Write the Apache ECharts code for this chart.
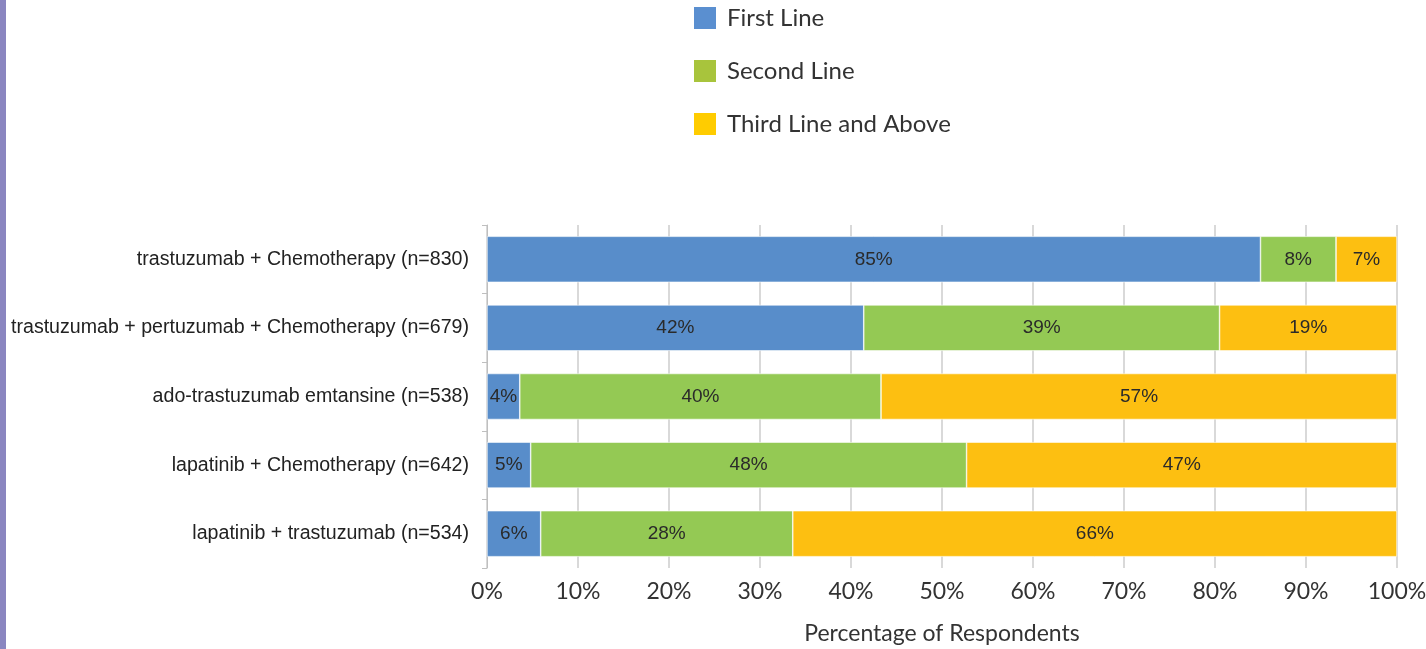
<!DOCTYPE html>
<html><head><meta charset="utf-8">
<script src="https://cdn.jsdelivr.net/npm/echarts@6/dist/echarts.min.js"></script>
<style>html,body{margin:0;padding:0;background:#fff}#c{width:1426px;height:649px}</style>
</head><body><div id="c"></div>
<script>
var categories = [
  "trastuzumab + Chemotherapy (n=830)",
  "trastuzumab + pertuzumab + Chemotherapy (n=679)",
  "ado-trastuzumab emtansine (n=538)",
  "lapatinib + Chemotherapy (n=642)",
  "lapatinib + trastuzumab (n=534)"
];
var firstLine  = [85.0, 41.4, 3.6, 4.8, 5.9];
var secondLine = [8.3, 39.1, 39.7, 47.9, 27.7];
var thirdLine  = [6.7, 19.5, 56.7, 47.3, 66.4];
var firstLabels  = ["85%", "42%", "4%", "5%", "6%"];
var secondLabels = ["8%", "39%", "40%", "48%", "28%"];
var thirdLabels  = ["7%", "19%", "57%", "47%", "66%"];
var xTicks = ["0%","10%","20%","30%","40%","50%","60%","70%","80%","90%","100%"];

var chart = echarts.init(document.getElementById('c'));
function mk(name, vals, labs, color) {
  return {
    name: name, type: 'bar', stack: 'all', barWidth: 46,
    data: vals,
    itemStyle: {color: color, borderColor: '#ffffff', borderWidth: 0.6},
    label: {show: true, position: 'inside', color: '#2a2a2a', fontFamily: 'Liberation Sans', fontSize: 19,
      formatter: function(p){ return labs[p.dataIndex]; }},
    emphasis: {disabled: true}
  };
}
chart.setOption({
  animation: false,
  graphic: [{type: 'rect', left: 0, top: 0, shape: {x: 0, y: 0, width: 6, height: 649}, style: {fill: '#8a86c0'}}],
  legend: {
    orient: 'vertical', left: 687, top: 0, itemWidth: 24, itemHeight: 24, itemGap: 27,
    icon: 'rect', selectedMode: false,
    textStyle: {fontFamily: 'Lato', fontSize: 24, color: '#333', padding: [0,0,0,5]},
    data: [
      {name: 'First Line', itemStyle: {color: '#5a8fd0'}},
      {name: 'Second Line', itemStyle: {color: '#a8c43c'}},
      {name: 'Third Line and Above', itemStyle: {color: '#ffcc00'}}
    ]
  },
  grid: {left: 487, right: 29, top: 225, bottom: 81, containLabel: false, outerBoundsMode: 'none'},
  xAxis: {
    type: 'value', min: 0, max: 100, interval: 10,
    axisLine: {show: false}, axisTick: {show: false},
    splitLine: {show: true, lineStyle: {color: '#d9d9d9', width: 2}},
    axisLabel: {margin: 12, fontFamily: 'Lato', fontSize: 23, color: '#333',
      formatter: function(v){ return xTicks[Math.round(v/10)]; }},
    name: 'Percentage of Respondents', nameLocation: 'middle', nameGap: 54,
    nameTextStyle: {fontFamily: 'Lato', fontSize: 23, color: '#333'}
  },
  yAxis: {
    type: 'category', inverse: true, data: categories,
    axisLine: {show: true, lineStyle: {color: '#bfbfbf', width: 1}},
    axisTick: {show: true, length: 5, lineStyle: {color: '#bfbfbf'}},
    axisLabel: {margin: 18, fontFamily: 'Liberation Sans', fontSize: 19.6, color: '#222'}
  },
  series: [
    mk('First Line', firstLine, firstLabels, '#588dca'),
    mk('Second Line', secondLine, secondLabels, '#94c954'),
    mk('Third Line and Above', thirdLine, thirdLabels, '#fdbf11')
  ]
});
</script></body></html>
